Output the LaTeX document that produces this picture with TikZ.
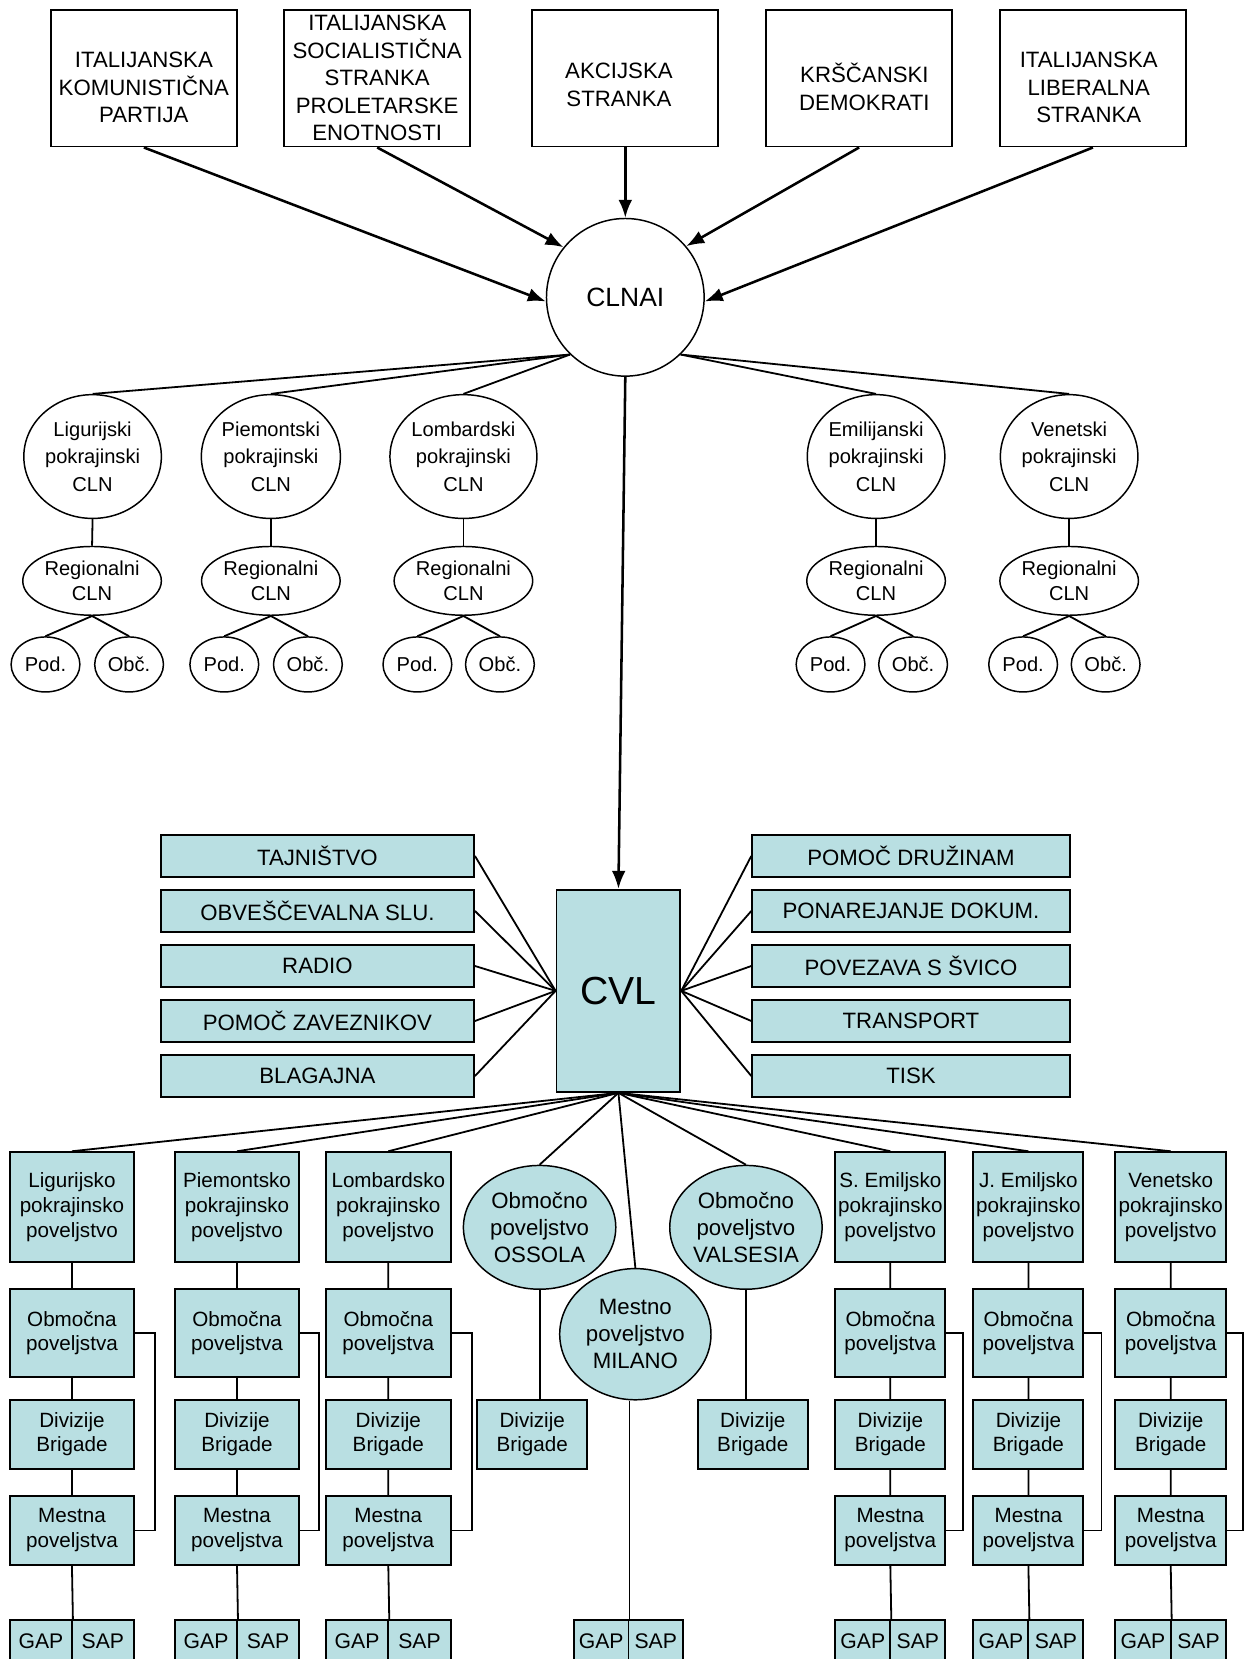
\documentclass[tikz,border=0pt]{standalone}
\usepackage{fontspec}
\setmainfont{Liberation Sans}
\usepackage{tikz}
\usetikzlibrary{arrows.meta}
\usetikzlibrary{shapes.geometric}
\definecolor{cvlblue}{RGB}{185,223,226}
\tikzstyle{party}=[rectangle, draw, line width=1.8pt, minimum width=176pt, minimum height=129pt, inner sep=0pt]
\tikzset{ptxt/.style={font=\fontsize{21}{26}\selectfont, align=center, inner sep=0pt},
  ring/.style={circle, draw, line width=1.4pt, minimum size=149pt, inner sep=0pt, font=\fontsize{25}{30}\selectfont},
  cln/.style={ellipse, draw, line width=1.4pt, minimum width=130pt, minimum height=117pt, inner sep=0pt, align=center, font=\fontsize{19}{26}\selectfont},
  reg/.style={ellipse, draw, line width=1.4pt, minimum width=131pt, minimum height=65pt, inner sep=0pt, align=center, font=\fontsize{19}{23}\selectfont},
  small/.style={ellipse, draw, line width=1.4pt, minimum width=65pt, minimum height=52pt, inner sep=0pt, font=\fontsize{19}{23}\selectfont},
  cvlbox/.style={rectangle, draw, fill=cvlblue, line width=1.8pt, minimum width=117pt, minimum height=191pt, inner sep=0pt, font=\fontsize{37}{44}\selectfont},
  dept/.style={rectangle, draw, fill=cvlblue, line width=1.8pt, minimum height=40pt, inner sep=0pt, font=\fontsize{21}{25}\selectfont},
  cmd/.style={rectangle, draw, fill=cvlblue, line width=1.8pt, inner sep=0pt, align=center, font=\fontsize{19.5}{23.5}\selectfont},
  oval/.style={ellipse, draw, fill=cvlblue, line width=1.4pt, minimum width=144pt, minimum height=117pt, inner sep=0pt, align=center, font=\fontsize{21}{25.5}\selectfont},
  widecol/.style={minimum width=117pt}, narrowcol/.style={minimum width=104pt},
  povrow/.style={minimum height=104pt}, obmrow/.style={minimum height=83pt},
  divrow/.style={minimum height=65pt}, gapcell/.style={minimum height=40pt, font=\fontsize{20}{24}\selectfont},
  conn/.style={line width=1.7pt}, brk/.style={line width=1.5pt},
  arr/.style={line width=2.4pt, -{Latex[length=17pt,width=13pt]}}}

\begin{document}
\begin{tikzpicture}[x=1pt,y=-1pt]
\clip (0,0) rectangle (1176,1568);
% stranke
\node (kpi) [party, label={[ptxt,yshift=-9pt]center:ITALIJANSKA\\KOMUNISTIČNA\\PARTIJA}] at (136,74) {};
\node (psi) [party, label={[ptxt]center:ITALIJANSKA\\SOCIALISTIČNA\\STRANKA\\PROLETARSKE\\ENOTNOSTI}] at (356.5,74) {};
\node (ak) [party, label={[ptxt,xshift=-6pt,yshift=-6pt]center:AKCIJSKA\\STRANKA}] at (591,74) {};
\node (kd) [party, label={[ptxt,xshift=5pt,yshift=-8pt]center:KRŠČANSKI\\DEMOKRATI}] at (812,74) {};
\node (ilp) [party, label={[ptxt,xshift=-4pt,yshift=-9pt]center:ITALIJANSKA\\LIBERALNA\\STRANKA}] at (1033,74) {};
\node (clnai) [ring] at (591,281) {CLNAI};
\draw[arr] (kpi.south) -- (clnai.183);
\draw[arr] (psi.south) -- (clnai.141);
\draw[arr] (ak.south) -- (clnai.north);
\draw[arr] (kd.south) -- (clnai.40);
\draw[arr] (ilp.south) -- (clnai.-3);
% pokrajinski CLN
\node (ligcln) [cln] at (87.5,431.5) {Ligurijski\\pokrajinski\\CLN};
\node (piecln) [cln] at (256,431.5) {Piemontski\\pokrajinski\\CLN};
\node (lomcln) [cln] at (438,431.5) {Lombardski\\pokrajinski\\CLN};
\node (emicln) [cln] at (828,431.5) {Emilijanski\\pokrajinski\\CLN};
\node (vencln) [cln] at (1010.5,431.5) {Venetski\\pokrajinski\\CLN};
\draw[conn] (clnai.226) -- (ligcln.north);
\draw[conn] (clnai.226) -- (piecln.north);
\draw[conn] (clnai.226) -- (lomcln.north);
\draw[conn] (clnai.-46) -- (emicln.north);
\draw[conn] (clnai.-46) -- (vencln.north);
\node (ligreg) [reg] at (87,549) {Regionalni\\CLN};
\node (piereg) [reg] at (256,549) {Regionalni\\CLN};
\node (lomreg) [reg] at (438,549) {Regionalni\\CLN};
\node (emireg) [reg] at (828,549) {Regionalni\\CLN};
\node (venreg) [reg] at (1010.5,549) {Regionalni\\CLN};
\node (ligpod) [small] at (43,628) {Pod.};
\node (ligobc) [small] at (122,628) {Obč.};
\node (piepod) [small] at (212,628) {Pod.};
\node (pieobc) [small] at (291,628) {Obč.};
\node (lompod) [small] at (394.5,628) {Pod.};
\node (lomobc) [small] at (472.5,628) {Obč.};
\node (emipod) [small] at (785,628) {Pod.};
\node (emiobc) [small] at (863,628) {Obč.};
\node (venpod) [small] at (967,628) {Pod.};
\node (venobc) [small] at (1045,628) {Obč.};
\draw[conn] (ligcln.south) -- (ligreg.north);
\draw[conn] (piecln.south) -- (piereg.north);
\draw[conn] (lomcln.south) -- (lomreg.north);
\draw[conn] (emicln.south) -- (emireg.north);
\draw[conn] (vencln.south) -- (venreg.north);
\draw[conn] (ligpod.north) -- (ligreg.south) -- (ligobc.north);
\draw[conn] (piepod.north) -- (piereg.south) -- (pieobc.north);
\draw[conn] (lompod.north) -- (lomreg.south) -- (lomobc.north);
\draw[conn] (emipod.north) -- (emireg.south) -- (emiobc.north);
\draw[conn] (venpod.north) -- (venreg.south) -- (venobc.north);
% CVL
\node (cvl) [cvlbox] at (584.5,936.5) {CVL};
\draw[arr] (clnai.south) -- (cvl.north);
\node (taj) [dept, minimum width=296pt] at (300,809) {TAJNIŠTVO};
\node (obv) [dept, minimum width=296pt] at (300,861) {OBVEŠČEVALNA SLU.};
\node (rad) [dept, minimum width=296pt] at (300,913) {RADIO};
\node (pza) [dept, minimum width=296pt] at (300,965) {POMOČ ZAVEZNIKOV};
\node (bla) [dept, minimum width=296pt] at (300,1017) {BLAGAJNA};
\node (pdr) [dept, minimum width=300pt] at (861,809) {POMOČ DRUŽINAM};
\node (pon) [dept, minimum width=300pt] at (861,861) {PONAREJANJE DOKUM.};
\node (psv) [dept, minimum width=300pt] at (861,913) {POVEZAVA S ŠVICO};
\node (tra) [dept, minimum width=300pt] at (861,965) {TRANSPORT};
\node (tis) [dept, minimum width=300pt] at (861,1017) {TISK};
\draw[conn] (taj.east) -- (cvl.west);
\draw[conn] (obv.east) -- (cvl.west);
\draw[conn] (rad.east) -- (cvl.west);
\draw[conn] (pza.east) -- (cvl.west);
\draw[conn] (bla.east) -- (cvl.west);
\draw[conn] (pdr.west) -- (cvl.east);
\draw[conn] (pon.west) -- (cvl.east);
\draw[conn] (psv.west) -- (cvl.east);
\draw[conn] (tra.west) -- (cvl.east);
\draw[conn] (tis.west) -- (cvl.east);
% poveljstva
\node (ligpov) [cmd, widecol, povrow] at (68,1141) {Ligurijsko\\pokrajinsko\\poveljstvo};
\node (piepov) [cmd, widecol, povrow] at (224,1141) {Piemontsko\\pokrajinsko\\poveljstvo};
\node (lompov) [cmd, widecol, povrow, minimum width=118pt] at (367,1141) {Lombardsko\\pokrajinsko\\poveljstvo};
\node (sempov) [cmd, narrowcol, povrow] at (841.5,1141) {S. Emiljsko\\pokrajinsko\\poveljstvo};
\node (jempov) [cmd, narrowcol, povrow] at (972,1141) {J. Emiljsko\\pokrajinsko\\poveljstvo};
\node (venpov) [cmd, narrowcol, povrow, minimum width=105pt] at (1106.5,1141) {Venetsko\\pokrajinsko\\poveljstvo};
\node (oss) [oval] at (510,1160) {Območno\\poveljstvo\\OSSOLA};
\node (val) [oval] at (705,1160) {Območno\\poveljstvo\\VALSESIA};
\node (mil) [oval, minimum width=143pt, minimum height=124pt] at (600.5,1261) {Mestno\\poveljstvo\\MILANO};
\draw[conn] (cvl.south) -- (ligpov.north);
\draw[conn] (cvl.south) -- (piepov.north);
\draw[conn] (cvl.south) -- (lompov.north);
\draw[conn] (cvl.south) -- (oss.north);
\draw[conn] (cvl.south) -- (mil.north);
\draw[conn] (cvl.south) -- (val.north);
\draw[conn] (cvl.south) -- (sempov.north);
\draw[conn] (cvl.south) -- (jempov.north);
\draw[conn] (cvl.south) -- (venpov.north);
\node (ligobm) [cmd, widecol, obmrow] at (68,1260) {Območna\\poveljstva};
\node (pieobm) [cmd, widecol, obmrow] at (224,1260) {Območna\\poveljstva};
\node (lomobm) [cmd, widecol, obmrow, minimum width=118pt] at (367,1260) {Območna\\poveljstva};
\node (semobm) [cmd, narrowcol, obmrow] at (841.5,1260) {Območna\\poveljstva};
\node (jemobm) [cmd, narrowcol, obmrow] at (972,1260) {Območna\\poveljstva};
\node (venobm) [cmd, narrowcol, obmrow, minimum width=105pt] at (1106.5,1260) {Območna\\poveljstva};
\node (ligdiv) [cmd, widecol, divrow] at (68,1355.5) {Divizije\\Brigade};
\node (piediv) [cmd, widecol, divrow] at (224,1355.5) {Divizije\\Brigade};
\node (lomdiv) [cmd, widecol, divrow, minimum width=118pt] at (367,1355.5) {Divizije\\Brigade};
\node (ossdiv) [cmd, narrowcol, divrow] at (503,1355.5) {Divizije\\Brigade};
\node (valdiv) [cmd, narrowcol, divrow] at (711.5,1355.5) {Divizije\\Brigade};
\node (semdiv) [cmd, narrowcol, divrow] at (841.5,1355.5) {Divizije\\Brigade};
\node (jemdiv) [cmd, narrowcol, divrow] at (972,1355.5) {Divizije\\Brigade};
\node (vendiv) [cmd, narrowcol, divrow, minimum width=105pt] at (1106.5,1355.5) {Divizije\\Brigade};
\node (ligmes) [cmd, widecol, divrow] at (68,1446.5) {Mestna\\poveljstva};
\node (piemes) [cmd, widecol, divrow] at (224,1446.5) {Mestna\\poveljstva};
\node (lommes) [cmd, widecol, divrow, minimum width=118pt] at (367,1446.5) {Mestna\\poveljstva};
\node (semmes) [cmd, narrowcol, divrow] at (841.5,1446.5) {Mestna\\poveljstva};
\node (jemmes) [cmd, narrowcol, divrow] at (972,1446.5) {Mestna\\poveljstva};
\node (venmes) [cmd, narrowcol, divrow, minimum width=105pt] at (1106.5,1446.5) {Mestna\\poveljstva};
\node (liggap) [cmd, gapcell, minimum width=58.5pt] at (38.75,1551) {GAP};
\node (ligsap) [cmd, gapcell, minimum width=58.5pt] at (97.25,1551) {SAP};
\node (piegap) [cmd, gapcell, minimum width=58.5pt] at (194.75,1551) {GAP};
\node (piesap) [cmd, gapcell, minimum width=58.5pt] at (253.25,1551) {SAP};
\node (lomgap) [cmd, gapcell, minimum width=59pt] at (337.5,1551) {GAP};
\node (lomsap) [cmd, gapcell, minimum width=59pt] at (396.5,1551) {SAP};
\node (milgap) [cmd, gapcell, minimum width=51.5pt] at (568.25,1551) {GAP};
\node (milsap) [cmd, gapcell, minimum width=51.5pt] at (619.75,1551) {SAP};
\node (semgap) [cmd, gapcell, minimum width=52pt] at (815.5,1551) {GAP};
\node (semsap) [cmd, gapcell, minimum width=52pt] at (867.5,1551) {SAP};
\node (jemgap) [cmd, gapcell, minimum width=52pt] at (946,1551) {GAP};
\node (jemsap) [cmd, gapcell, minimum width=52pt] at (998,1551) {SAP};
\node (vengap) [cmd, gapcell, minimum width=52.5pt] at (1080.25,1551) {GAP};
\node (vensap) [cmd, gapcell, minimum width=52.5pt] at (1132.75,1551) {SAP};
\draw[conn] (ligpov.south) -- (ligobm.north) (ligobm.south) -- (ligdiv.north) (ligdiv.south) -- (ligmes.north) (ligmes.south) -- (liggap.north east);
\draw[conn] (piepov.south) -- (pieobm.north) (pieobm.south) -- (piediv.north) (piediv.south) -- (piemes.north) (piemes.south) -- (piegap.north east);
\draw[conn] (lompov.south) -- (lomobm.north) (lomobm.south) -- (lomdiv.north) (lomdiv.south) -- (lommes.north) (lommes.south) -- (lomgap.north east);
\draw[conn] (sempov.south) -- (semobm.north) (semobm.south) -- (semdiv.north) (semdiv.south) -- (semmes.north) (semmes.south) -- (semgap.north east);
\draw[conn] (jempov.south) -- (jemobm.north) (jemobm.south) -- (jemdiv.north) (jemdiv.south) -- (jemmes.north) (jemmes.south) -- (jemgap.north east);
\draw[conn] (venpov.south) -- (venobm.north) (venobm.south) -- (vendiv.north) (vendiv.south) -- (venmes.north) (venmes.south) -- (vengap.north east);
\draw[conn] (oss.south) -- (oss.south |- ossdiv.north);
\draw[conn] (val.south) -- (val.south |- valdiv.north);
\draw[conn] (milgap.north east |- mil.south) -- (milgap.north east);
\draw[brk] (ligobm.east) -- ++(19,0) |- (ligmes.east);
\draw[brk] (pieobm.east) -- ++(18,0) |- (piemes.east);
\draw[brk] (lomobm.east) -- ++(19,0) |- (lommes.east);
\draw[brk] (semobm.east) -- ++(16,0) |- (semmes.east);
\draw[brk] (jemobm.east) -- ++(16,0) |- (jemmes.east);
\draw[brk] (venobm.east) -- ++(15,0) |- (venmes.east);
\end{tikzpicture}
\end{document}
